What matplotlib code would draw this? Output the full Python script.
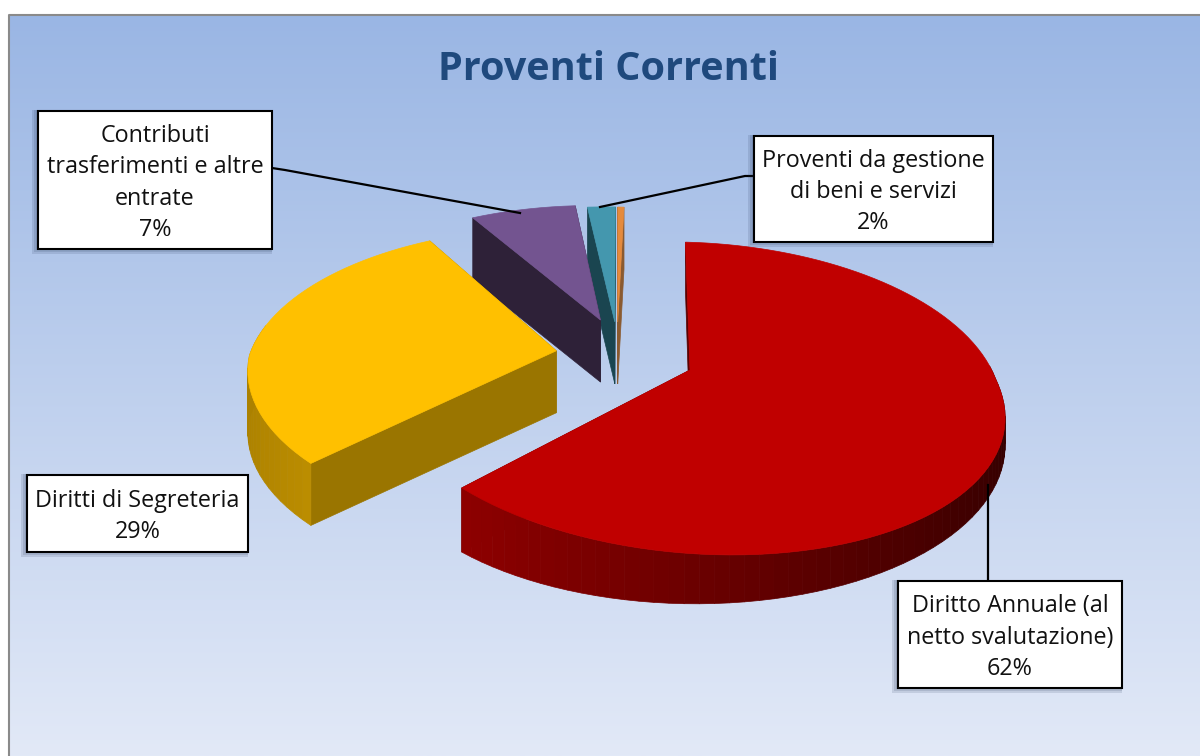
import numpy as np
import matplotlib
matplotlib.use("Agg")
import matplotlib.pyplot as plt
from matplotlib.patches import Polygon, Rectangle

plt.rcParams['font.family'] = ['Open Sans', 'DejaVu Sans']

labels = ['Diritto Annuale (al\nnetto svalutazione)\n62%', 'Diritti di Segreteria\n29%',
          'Contributi\ntrasferimenti e altre\nentrate\n7%', 'Proventi da gestione\ndi beni e servizi\n2%']
values = [62.4, 28.6, 6.8, 1.8, 0.4]
colors = ['#c00000', '#ffc000', '#735490', '#4497ae', '#e58a3c']
side_colors = ['#5a0000', '#9a7500', '#2e2138', '#1a4550', '#8a5a30']
explode = [(0, 0), (-0.445, 0.10), (-0.31, 0.33), (-0.26, 0.32), (-0.25, 0.32)]

# projection of the pie disc, tilted with a bit of perspective
cx, cy = 690, 370
rx, ry = 306, 151
persp = 0.182
shear = -18
tilt = 10
depth = 62
start = -1


def project(u, v):
    w = 1 + persp * v
    return cx + (rx * u + shear * min(v, 0)) / w, cy + (-ry * v + tilt * u) / w


def shade(color, f):
    return tuple(min(c * f, 1) for c in matplotlib.colors.to_rgb(color))


fig = plt.figure(figsize=(12, 7.56), dpi=100)
ax = fig.add_axes([0, 0, 1, 1])
ax.set_xlim(0, 1200)
ax.set_ylim(756, 0)
ax.axis('off')

# background gradient
grad = np.linspace(0, 1, 256).reshape(-1, 1)
top_c = np.array(matplotlib.colors.to_rgb('#9ab6e4'))
bot_c = np.array(matplotlib.colors.to_rgb('#e2e9f7'))
img = (top_c + (bot_c - top_c) * grad[:, :, None]).reshape(256, 1, 3)
ax.imshow(img, extent=(9, 1200, 756, 15), aspect='auto', zorder=0)
ax.set_xlim(0, 1200)
ax.set_ylim(756, 0)
ax.plot([9, 9, 1200], [756, 15, 15], color='#8a8a8a', lw=1.5, zorder=1)

# wedge angles, clockwise from 12 o'clock
edges = start + np.concatenate([[0], np.cumsum(values)]) / sum(values) * 360
z = 2
for i in reversed(range(len(values))):
    a0, a1 = np.radians(edges[i]), np.radians(edges[i + 1])
    th = np.linspace(a0, a1, max(int((a1 - a0) * 25), 3))
    ox, oy = explode[i]
    arc = np.array([project(np.sin(t) + ox, np.cos(t) + oy) for t in th])
    apex = np.array(project(ox, oy))
    # the big slice gets thinner toward the right
    drops = 49 - 22 * np.sin(th) if i == 0 else np.full(len(th), depth)
    low = arc + np.column_stack([np.zeros(len(th)), drops])
    apex_low = apex + [0, depth]
    # flat cut faces
    for k in (0, -1):
        ax.add_patch(Polygon([apex, arc[k], low[k], apex_low], closed=True,
                             fc=side_colors[i], ec=side_colors[i], lw=0.5, zorder=z))
    # outer rim, only the part facing the viewer, darker toward the right
    for j in range(len(arc) - 1):
        if np.cos(th[j]) > 0.1:
            continue
        f = 0.55 - 0.28 * np.sin(th[j]) if i == 0 else 0.87 + 0.2 * np.sin(th[j])
        c = shade(colors[i], f)
        ax.add_patch(Polygon([arc[j], arc[j + 1], low[j + 1], low[j]], closed=True,
                             fc=c, ec=c, lw=0.5, zorder=z))
    # top face
    ax.add_patch(Polygon(np.vstack([apex, arc]), closed=True, fc=colors[i], ec=colors[i], lw=0.5, zorder=z + 1))
    z += 2

ax.text(609, 70, 'Proventi Correnti', ha='center', va='center', fontsize=28.5,
        fontweight='bold', color='#1f497d', zorder=30)

# leader lines
for xs, ys in [([272, 285, 520], [168, 170, 213]),
               ([600, 745, 754], [207, 176, 176]),
               ([988, 988], [485, 581])]:
    ax.plot(xs, ys, color='black', lw=1.6, zorder=25)

# label boxes with a soft shadow on the left
boxes = [(898, 581, 224, 107), (27, 475, 221, 77), (38, 111, 234, 138), (754, 136, 239, 106)]
for (x, y, w, h), lab in zip(boxes, labels):
    for s in (2, 4, 6):
        ax.add_patch(Rectangle((x - s, y - 1), w + s, h + s, fc='#1f2f50', ec='none', alpha=0.13, zorder=25))
    ax.add_patch(Rectangle((x, y), w, h, fc='white', ec='black', lw=1.5, zorder=26))
    ax.text(x + w / 2, y + h / 2 + 3, lab, ha='center', va='center', fontsize=16.8,
            linespacing=1.4, color='#111111', zorder=27)

fig.savefig('out.png', dpi=100)
